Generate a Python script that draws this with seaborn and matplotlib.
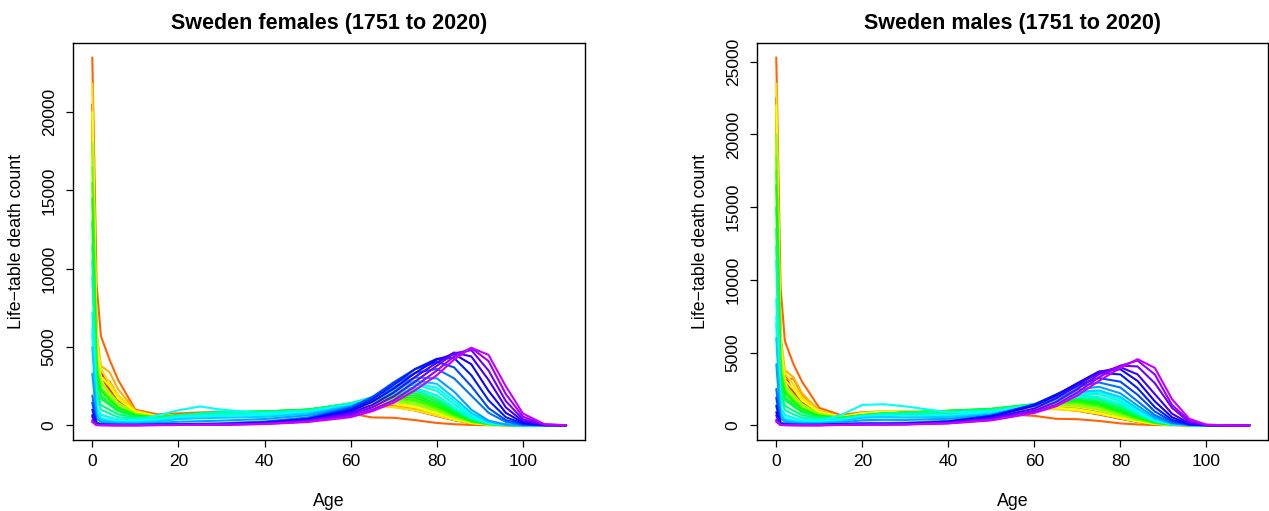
"""
Rainbow plot of life-table death counts for Sweden, females and males.
"""

import colorsys

import matplotlib
matplotlib.use("Agg")
import matplotlib.pyplot as plt
import pandas as pd
import seaborn as sns

ages = [0, 1, 2, 4, 6, 10, 15, 20, 25, 30, 40, 50, 60, 65, 70, 75, 80, 84, 88, 92, 96, 100, 105, 110]

# selected calendar years (the reference shows every year 1751-2020)
years = [1751, 1760, 1773, 1780, 1790, 1800, 1810, 1820, 1830, 1840, 1850, 1860, 1870, 1880,
         1890, 1900, 1910, 1918, 1920, 1930, 1940, 1950, 1960, 1970, 1980, 1990, 2000, 2010, 2020]

female_dx = [
    [20500, 5600, 3400, 2300, 1600, 900, 560, 620, 680, 760, 820, 930, 1150, 1250, 1200, 950, 600, 330, 130, 40, 8, 1, 0, 0],
    [19500, 5200, 3200, 2200, 1500, 850, 560, 620, 690, 760, 840, 960, 1180, 1300, 1250, 1000, 640, 360, 150, 45, 9, 1, 0, 0],
    [23500, 9000, 5700, 4200, 2900, 1000, 700, 760, 820, 860, 850, 820, 760, 500, 480, 330, 150, 70, 25, 6, 1, 0, 0, 0],
    [18500, 5000, 3100, 2800, 1900, 870, 560, 620, 690, 750, 820, 940, 1200, 1350, 1350, 1100, 720, 400, 160, 50, 10, 1, 0, 0],
    [19500, 6000, 3800, 3400, 2300, 950, 600, 640, 700, 760, 820, 920, 1150, 1250, 1200, 1000, 650, 360, 140, 40, 8, 1, 0, 0],
    [21800, 5800, 3600, 2700, 1900, 900, 580, 620, 680, 740, 800, 900, 1100, 1200, 1150, 950, 620, 340, 130, 40, 8, 1, 0, 0],
    [20000, 5200, 3100, 2500, 1700, 850, 560, 640, 710, 780, 850, 950, 1200, 1350, 1350, 1150, 760, 420, 170, 50, 10, 1, 0, 0],
    [17500, 4300, 2700, 2000, 1400, 750, 520, 620, 700, 780, 860, 980, 1280, 1450, 1500, 1300, 900, 500, 200, 60, 12, 1, 0, 0],
    [18000, 4400, 2800, 2100, 1450, 760, 520, 640, 720, 800, 880, 1000, 1300, 1480, 1550, 1350, 920, 520, 210, 60, 12, 1, 0, 0],
    [16500, 3900, 2400, 1800, 1200, 680, 500, 630, 720, 800, 880, 1000, 1330, 1550, 1650, 1500, 1050, 600, 240, 70, 14, 2, 0, 0],
    [15500, 3700, 2300, 1700, 1150, 650, 500, 640, 730, 820, 880, 1000, 1350, 1600, 1750, 1600, 1150, 650, 260, 75, 15, 2, 0, 0],
    [14500, 3500, 2200, 1600, 1100, 650, 500, 640, 740, 830, 880, 1000, 1380, 1650, 1850, 1750, 1250, 720, 290, 80, 16, 2, 0, 0],
    [13000, 3100, 1900, 1400, 950, 600, 500, 650, 750, 840, 880, 1000, 1400, 1720, 1950, 1900, 1400, 800, 320, 90, 18, 2, 0, 0],
    [11500, 2800, 1700, 1300, 900, 560, 480, 630, 740, 830, 860, 980, 1400, 1750, 2050, 2050, 1550, 900, 370, 100, 20, 2, 0, 0],
    [10500, 2200, 1300, 1000, 700, 480, 460, 640, 760, 850, 860, 970, 1400, 1780, 2150, 2200, 1700, 1000, 420, 110, 22, 3, 0, 0],
    [9500, 1800, 1000, 750, 520, 400, 430, 620, 720, 800, 820, 940, 1400, 1800, 2250, 2400, 1900, 1120, 460, 120, 25, 3, 0, 0],
    [7200, 1200, 700, 500, 350, 300, 380, 560, 640, 700, 720, 880, 1350, 1800, 2350, 2600, 2200, 1350, 560, 150, 30, 4, 0, 0],
    [6200, 1100, 650, 500, 350, 330, 620, 960, 1200, 1000, 780, 880, 1300, 1700, 2100, 2300, 1900, 1150, 470, 130, 28, 3, 0, 0],
    [5800, 900, 450, 330, 250, 230, 330, 480, 560, 600, 650, 820, 1300, 1800, 2350, 2700, 2400, 1550, 680, 180, 35, 4, 0, 0],
    [5000, 700, 350, 250, 190, 170, 250, 400, 450, 480, 540, 750, 1250, 1750, 2350, 2850, 2650, 1750, 800, 220, 40, 5, 0, 0],
    [3300, 450, 230, 160, 120, 100, 150, 230, 260, 300, 400, 640, 1200, 1750, 2450, 3050, 3000, 2150, 1000, 300, 55, 6, 0, 0],
    [1900, 180, 100, 70, 50, 45, 60, 80, 100, 130, 240, 500, 1150, 1800, 2600, 3350, 3600, 3000, 1900, 800, 220, 40, 3, 0],
    [1450, 100, 60, 40, 30, 30, 40, 50, 60, 90, 190, 420, 1100, 1800, 2750, 3600, 4050, 3700, 2500, 1100, 330, 60, 5, 0],
    [1000, 70, 40, 30, 25, 25, 35, 40, 50, 80, 180, 400, 1000, 1650, 2600, 3600, 4250, 4300, 3200, 1600, 520, 100, 8, 0],
    [650, 50, 30, 20, 15, 15, 30, 40, 45, 65, 150, 370, 900, 1500, 2350, 3350, 4200, 4550, 3900, 2200, 800, 170, 12, 0],
    [550, 40, 25, 15, 12, 12, 25, 35, 40, 55, 130, 330, 800, 1300, 2100, 3100, 4000, 4650, 4400, 2900, 1150, 250, 20, 1],
    [330, 25, 15, 10, 8, 8, 20, 30, 35, 45, 110, 290, 700, 1150, 1850, 2800, 3800, 4600, 4800, 3500, 1550, 380, 35, 2],
    [230, 20, 10, 8, 6, 6, 15, 25, 30, 40, 90, 240, 600, 1000, 1600, 2500, 3500, 4400, 4950, 4100, 2000, 550, 50, 3],
    [220, 15, 8, 6, 5, 5, 12, 20, 25, 35, 80, 210, 520, 900, 1450, 2250, 3200, 4200, 4950, 4500, 2500, 750, 70, 4],
]

male_dx = [
    [22500, 5600, 3400, 2300, 1600, 900, 560, 620, 680, 760, 860, 980, 1150, 1150, 1000, 750, 450, 240, 90, 25, 5, 0, 0, 0],
    [21500, 5300, 3200, 2200, 1500, 850, 560, 640, 700, 780, 880, 1000, 1180, 1200, 1050, 800, 480, 260, 100, 28, 5, 0, 0, 0],
    [25300, 9500, 5800, 4200, 3000, 1200, 700, 900, 950, 950, 900, 800, 650, 450, 420, 300, 130, 60, 20, 5, 1, 0, 0, 0],
    [20500, 5200, 3200, 3200, 2100, 950, 580, 700, 760, 820, 900, 1000, 1200, 1250, 1150, 900, 550, 290, 110, 30, 6, 0, 0, 0],
    [21500, 6200, 3800, 3300, 2200, 1000, 600, 720, 780, 840, 900, 980, 1150, 1150, 1050, 820, 500, 270, 100, 28, 5, 0, 0, 0],
    [23500, 5900, 3600, 2800, 1900, 950, 580, 720, 800, 850, 900, 970, 1100, 1100, 1000, 780, 480, 260, 95, 27, 5, 0, 0, 0],
    [22000, 5300, 3100, 2500, 1700, 900, 580, 850, 950, 950, 950, 1000, 1150, 1200, 1100, 850, 520, 280, 105, 30, 6, 0, 0, 0],
    [19500, 4400, 2700, 2000, 1400, 780, 530, 680, 780, 860, 950, 1050, 1300, 1350, 1300, 1050, 650, 350, 130, 35, 7, 1, 0, 0],
    [20000, 4500, 2800, 2100, 1450, 780, 530, 700, 800, 880, 980, 1080, 1320, 1400, 1350, 1100, 700, 380, 140, 38, 7, 1, 0, 0],
    [18500, 4000, 2450, 1800, 1200, 700, 520, 680, 780, 880, 1000, 1100, 1380, 1500, 1500, 1250, 800, 440, 160, 42, 8, 1, 0, 0],
    [17500, 3800, 2350, 1700, 1150, 660, 510, 690, 790, 880, 1000, 1120, 1420, 1560, 1600, 1350, 880, 480, 180, 45, 8, 1, 0, 0],
    [16500, 3600, 2250, 1600, 1100, 660, 510, 700, 800, 880, 1000, 1140, 1450, 1620, 1700, 1450, 950, 520, 190, 48, 9, 1, 0, 0],
    [15000, 3200, 1950, 1400, 950, 610, 500, 700, 820, 880, 980, 1120, 1450, 1650, 1780, 1550, 1050, 580, 210, 52, 10, 1, 0, 0],
    [13500, 2900, 1750, 1300, 900, 570, 480, 680, 800, 860, 960, 1100, 1450, 1700, 1850, 1650, 1150, 640, 240, 58, 10, 1, 0, 0],
    [12300, 2300, 1350, 1000, 700, 490, 460, 700, 820, 870, 940, 1080, 1430, 1720, 1950, 1800, 1280, 720, 270, 65, 11, 1, 0, 0],
    [11300, 1900, 1050, 750, 520, 410, 430, 680, 780, 820, 880, 1040, 1420, 1750, 2050, 1950, 1420, 800, 300, 70, 12, 1, 0, 0],
    [8700, 1250, 720, 500, 350, 300, 380, 600, 660, 680, 720, 920, 1380, 1780, 2150, 2150, 1650, 960, 370, 85, 14, 1, 0, 0],
    [7500, 1150, 680, 500, 350, 330, 700, 1400, 1450, 1300, 900, 950, 1300, 1650, 1950, 1900, 1500, 850, 320, 75, 12, 1, 0, 0],
    [7000, 950, 470, 330, 250, 230, 350, 620, 700, 680, 680, 880, 1380, 1800, 2200, 2300, 1800, 1050, 400, 95, 15, 1, 0, 0],
    [6000, 750, 370, 260, 190, 170, 270, 520, 560, 540, 580, 800, 1350, 1800, 2300, 2400, 1950, 1150, 450, 110, 17, 1, 0, 0],
    [4200, 500, 250, 170, 120, 110, 180, 350, 380, 370, 450, 720, 1350, 1900, 2450, 2650, 2200, 1350, 550, 140, 22, 2, 0, 0],
    [2500, 200, 110, 75, 55, 55, 90, 170, 170, 180, 300, 650, 1400, 2000, 2650, 2950, 2600, 1650, 700, 180, 28, 3, 0, 0],
    [1900, 120, 70, 45, 35, 35, 70, 110, 110, 120, 260, 650, 1450, 2100, 2750, 3250, 3000, 2100, 950, 260, 40, 4, 0, 0],
    [1350, 80, 50, 35, 30, 30, 60, 90, 90, 110, 250, 650, 1400, 2100, 2850, 3600, 3500, 2550, 1250, 370, 60, 5, 0, 0],
    [900, 60, 35, 25, 20, 20, 50, 90, 90, 100, 230, 580, 1350, 2050, 2900, 3700, 3850, 3050, 1650, 550, 90, 8, 0, 0],
    [680, 45, 30, 20, 15, 15, 40, 80, 85, 95, 200, 500, 1150, 1850, 2750, 3650, 4000, 3500, 2150, 800, 140, 12, 1, 0],
    [400, 30, 20, 12, 10, 10, 35, 60, 65, 75, 170, 420, 1000, 1600, 2500, 3500, 4100, 4050, 2900, 1200, 230, 20, 1, 0],
    [280, 25, 15, 10, 8, 8, 25, 50, 55, 65, 140, 370, 900, 1400, 2250, 3300, 4100, 4450, 3500, 1400, 330, 35, 2, 0],
    [260, 20, 12, 8, 6, 6, 20, 45, 50, 60, 130, 340, 850, 1300, 2050, 3050, 3950, 4550, 3950, 1800, 450, 40, 3, 0],
]

panels = [("Sweden females (1751 to 2020)", female_dx),
          ("Sweden males (1751 to 2020)", male_dx)]


def year_colour(year):
    # R's rainbow(n * 1.25)[1:n], n = 270 years
    return colorsys.hsv_to_rgb((year - 1751) / (270 * 1.25), 1.0, 1.0)


def to_long(dx):
    rows = []
    for year, values in zip(years, dx):
        for age, value in zip(ages, values):
            rows.append({"year": year, "age": age, "dx": value})
    return pd.DataFrame(rows)


sns.set_style("ticks")
plt.rcParams["font.family"] = ["Liberation Sans", "DejaVu Sans"]
plt.rcParams["text.color"] = "black"
plt.rcParams["axes.labelcolor"] = "black"
plt.rcParams["xtick.color"] = "black"
plt.rcParams["ytick.color"] = "black"

fig = plt.figure(figsize=(12.69, 5.11), dpi=100)
boxes = [[0.0578, 0.1389, 0.4032, 0.7775], [0.5968, 0.1389, 0.4027, 0.7775]]
palette = {y: year_colour(y) for y in years}

for (title, dx), box in zip(panels, boxes):
    ax = fig.add_axes(box)
    df = to_long(dx)
    sns.lineplot(data=df, x="age", y="dx", hue="year", palette=palette, legend=False,
                 estimator=None, errorbar=None, linewidth=1.5, ax=ax)

    ymax = df["dx"].max()
    ax.set_xlim(-4.4, 114.4)
    ax.set_ylim(-0.04 * ymax, 1.04 * ymax)
    ax.set_xticks([0, 20, 40, 60, 80, 100])
    ax.set_yticks(range(0, int(ymax) + 1, 5000))

    for side in ax.spines.values():
        side.set_visible(True)
        side.set_color("black")
        side.set_linewidth(1.0)
    ax.tick_params(axis="both", length=5, width=0.9, labelsize=12.5, pad=5)
    ax.tick_params(axis="y", labelrotation=90, pad=7)
    for label in ax.get_yticklabels():
        label.set_va("center")

    ax.set_title(title, fontsize=15.5, fontweight="bold", pad=10)
    ax.set_xlabel("Age", fontsize=12.8, labelpad=17)
    ax.set_ylabel("Life\u2212table death count", fontsize=12.8, labelpad=12)

fig.savefig("out.png", dpi=100)
